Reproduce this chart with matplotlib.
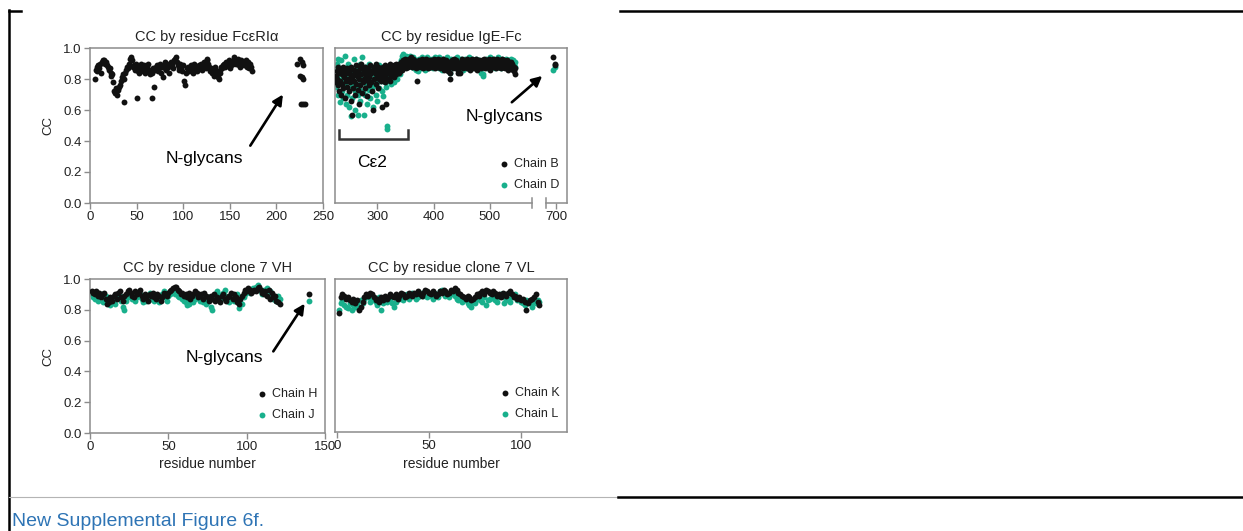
import numpy as np
import matplotlib
matplotlib.use("Agg")
import matplotlib.pyplot as plt
from matplotlib.lines import Line2D

plt.rcParams['font.family'] = ['Liberation Sans', 'DejaVu Sans']

# ---- data (CC x 100, one value per residue) ----
fcer_start = 5
fcer_cc = """80 86 88 85 89 87 90 84 91 92 92 90 91 89 88 86 87 84 82 83
78 72 71 74 70 73 75 76 79 81 83 65 80 84 86 88 87 90 93 94
92 88 89 86 90 68 85 87 84 88 90 86 85 89 84 87 88 90 85 83
86 84 68 87 75 86 88 89 85 87 90 84 88 81 89 91 87 86 90 88
84 89 91 90 87 92 93 94 91 89 88 86 90 87 85 89 79 76 84 87
88 85 86 89 87 84 88 90 86 87 85 88 89 87 90 86 88 91 89 87
92 93 90 88 85 87 84 86 82 88 85 83 81 80 86 84 88 87 89 90
88 91 89 90 92 87 89 91 90 93 94 92 90 91 93 89 88 92 90 91
89 90 92 88 91 89 87 90 88 85"""
fcer_gly_res = [222, 225, 228, 229, 225, 227, 229, 226, 229, 231]
fcer_gly_cc = [0.90, 0.93, 0.91, 0.89, 0.82, 0.81, 0.80, 0.64, 0.64, 0.64]

ige_start = 226
ige_b_cc = """82 78 85 80 76 88 72 84 79 86 70 83 77 88 74 81 86 68 79 84
75 87 80 72 85 78 83 66 88 57 81 74 86 79 70 84 77 89 82 73
85 64 80 87 76 83 90 71 84 78 86 80 74 88 82 69 85 79 87 81
76 89 83 78 85 72 60 86 80 88 84 77 90 82 86 74 88 80 85 83
87 79 84 62 88 81 85 78 89 64 83 86 80 88 84 87 79 90 85 82
88 84 86 81 89 85 87 90 83 88 86 89 84 90 87 85 91 88 86 92
90 88 91 89 93 87 90 92 88 91 93 90 89 92 94 91 88 90 93 89
92 90 87 89 91 79 88 90 92 89 91 88 90 93 89 87 91 90 88 92
90 93 89 91 87 90 92 88 91 89 92 90 88 91 93 89 87 90 92 88
91 89 93 90 88 92 87 91 89 90 93 88 90 86 91 89 92 88 90 87
85 88 91 80 84 90 92 89 87 91 93 88 90 92 87 89 91 86 84 90
88 84 91 89 93 90 87 92 88 91 89 92 90 87 93 91 88 90 86 92
90 88 91 93 89 87 90 92 88 91 93 89 86 90 92 88 91 89 87 90
92 88 90 93 89 91 87 90 92 88 91 89 93 90 86 92 88 91 89 90
93 88 91 89 92 87 90 93 89 91 88 92 90 87 91 89 93 90 88 92
90 87 91 89 92 88 90 86 91 89 88 91 87 90 89 86 88 85 87 83"""
ige_d_cc = """88 75 90 82 70 93 78 86 65 84 92 72 80 68 87 76 95 82 64 78
85 70 90 62 80 88 74 56 83 77 68 86 79 93 72 60 84 76 88 70
57 82 74 90 66 85 78 94 72 80 57 84 70 88 76 82 64 86 78 73
90 68 80 85 74 88 79 62 84 76 82 70 87 78 66 84 80 89 74 85
79 88 72 84 81 69 86 78 82 75 87 50 48 83 79 86 81 88 77 84
80 87 83 78 88 84 82 89 86 80 88 84 90 86 89 83 92 87 95 91
96 94 90 93 89 95 91 88 92 94 90 93 95 89 91 92 88 94 90 87
93 89 91 86 90 88 92 85 90 93 89 91 87 94 90 88 92 89 91 86
92 89 94 90 87 91 93 88 90 92 89 93 90 87 92 88 94 91 89 90
92 88 90 94 87 91 89 93 90 86 90 93 88 91 89 92 87 90 94 88
91 87 89 84 90 93 88 91 89 92 88 90 93 87 91 89 94 88 90 92
87 91 89 93 88 90 92 86 91 89 93 88 90 92 87 91 89 94 90 88
91 89 93 87 90 92 88 91 89 93 90 87 91 89 92 88 90 86 84 91
89 83 82 90 92 88 91 89 93 87 90 92 88 91 89 94 87 90 92 88
91 89 93 90 87 92 88 91 89 94 88 90 92 87 91 89 93 90 88 91
92 88 90 93 87 91 89 92 88 90 91 89 93 88 90 92 87 89 91 88"""
ige_b_gly_res = [695, 697, 698]
ige_b_gly_cc = [0.94, 0.90, 0.89]
ige_d_gly_res = [695, 697]
ige_d_gly_cc = [0.86, 0.88]

vh_start = 1
vh_h_cc = """92 91 90 92 89 91 88 90 91 87 84 85 88 86 89 90 87 91 92 88
86 89 90 92 93 91 89 88 92 90 91 93 89 87 90 88 86 90 89 91
88 87 90 89 86 88 91 90 89 91 92 93 94 95 95 93 92 90 91 89
90 88 91 87 89 90 92 91 88 89 90 87 91 89 88 86 89 87 90 86
88 87 85 89 90 87 86 88 89 91 87 90 88 85 84 87 89 91 93 92
94 93 91 92 93 92 94 95 93 91 90 92 89 93 87 91 88 89 86 85 84"""
vh_j_cc = """90 88 87 89 86 88 90 85 88 89 87 86 83 85 87 84 88 90 89 86
82 80 86 88 91 90 87 89 86 88 89 90 87 85 88 86 89 91 87 88
86 89 88 85 87 90 92 88 86 89 90 91 92 90 93 89 88 90 87 86
85 83 84 86 88 85 87 89 90 86 88 85 87 84 86 88 82 80 87 89
92 90 86 88 91 93 89 87 85 88 89 86 88 90 81 85 84 88 90 92
93 91 92 94 93 95 96 94 92 90 93 91 94 89 92 90 87 88 86 89 87"""
vh_gly_res = [140]
vh_h_gly_cc = [0.90]
vh_j_gly_cc = [0.86]

vl_start = 1
vl_k_cc = """78 88 90 89 87 88 86 85 87 84 86 80 82 85 88 90 89 91 90 88
86 87 85 88 86 89 87 88 90 89 88 90 87 89 91 90 88 89 91 90
89 91 90 92 90 89 91 93 92 91 90 92 91 89 90 92 91 93 92 90
91 93 92 94 93 91 90 89 88 87 89 88 86 87 88 90 89 91 92 90
93 92 91 90 92 91 89 90 88 91 90 89 91 92 90 88 89 87 88 86
87 85 80 84 86 87 88 90 85 83"""
vl_l_cc = """80 84 86 83 82 81 84 80 83 82 84 81 86 84 87 89 88 85 87 86
85 83 88 80 84 86 85 87 86 84 82 85 88 87 89 86 88 90 87 89
91 89 87 88 90 91 89 92 88 90 89 87 91 90 88 92 93 91 89 90
88 91 90 89 87 86 88 85 87 86 84 83 82 85 84 87 88 86 85 88
83 86 87 89 88 86 85 88 90 89 84 86 87 85 88 89 90 86 87 85
84 83 86 85 84 82 85 84 86 85"""

BLACK = '#111111'
TEAL = '#19b08c'
SPINE = '#8c8c8c'
TXT = '#222222'
MS = 18


def cc(s):
    return np.array(s.split(), float) / 100


def res(start, vals):
    return start + np.arange(len(vals))


fig = plt.figure(figsize=(12.43, 5.31), dpi=100)
W, H = 1243, 531


def px_axes(l, t, r, b):
    return fig.add_axes([l / W, 1 - b / H, (r - l) / W, (b - t) / H])


def style(ax, title, left=True, xlabel=False):
    for s in ax.spines.values():
        s.set_color(SPINE)
        s.set_linewidth(1.1)
    ax.set_ylim(0, 1.0)
    ax.tick_params(direction='out', length=4, width=1, color=SPINE,
                   labelsize=9.5, labelcolor=TXT, pad=2)
    ax.set_yticks([0, 0.2, 0.4, 0.6, 0.8, 1.0])
    if left:
        ax.set_yticklabels(['0.0', '0.2', '0.4', '0.6', '0.8', '1.0'])
        ax.set_ylabel('CC', fontsize=9.5, color=TXT, labelpad=6)
    else:
        ax.tick_params(axis='y', left=False, labelleft=False)
    ax.set_title(title, fontsize=10.5, color=TXT, pad=5)
    if xlabel:
        ax.set_xlabel('residue number', fontsize=10, color=TXT, labelpad=3)


def legend(ax, handles, labels):
    ax.legend(handles, labels, loc='lower right', bbox_to_anchor=(1.0, 0.03),
              frameon=False, fontsize=9, handletextpad=0.3, labelspacing=0.7,
              borderaxespad=0.2, handlelength=1.0, scatterpoints=1,
              labelcolor=TXT)


def arrow(ax, head, tail):
    ax.annotate('', xy=head, xytext=tail,
                arrowprops=dict(arrowstyle='-|>', color='k', lw=1.9,
                                mutation_scale=15, shrinkA=0, shrinkB=0))


# ---- panel 1: FceRIa ----
ax1 = px_axes(90, 48, 323, 203)
v = cc(fcer_cc)
ax1.scatter(res(fcer_start, v), v, s=MS, color=BLACK, lw=0, zorder=3)
ax1.scatter(fcer_gly_res, fcer_gly_cc, s=MS, color=BLACK, lw=0, zorder=3)
ax1.set_xlim(0, 250)
ax1.set_xticks([0, 50, 100, 150, 200, 250])
style(ax1, 'CC by residue FcεRIα')
ax1.text(123, 0.29, 'N-glycans', fontsize=12.5, ha='center', va='center')
arrow(ax1, (207, 0.70), (172, 0.37))

# ---- panel 2: IgE-Fc with broken x axis ----
def fwd(x):
    x = np.asarray(x, float)
    return np.where(x <= 600, x, np.where(x < 682, 600, x - 82))


def inv(y):
    y = np.asarray(y, float)
    return np.where(y <= 600, y, y + 82)


ax2 = px_axes(335, 48, 567, 203)
ax2.set_xscale('function', functions=(fwd, inv))
vb = cc(ige_b_cc)
vd = cc(ige_d_cc)
ax2.scatter(res(ige_start, vd), vd, s=MS, color=TEAL, lw=0, zorder=2)
ax2.scatter(ige_d_gly_res, ige_d_gly_cc, s=MS, color=TEAL, lw=0, zorder=2)
hb = ax2.scatter(res(ige_start, vb), vb, s=MS, color=BLACK, lw=0, zorder=3)
ax2.scatter(ige_b_gly_res, ige_b_gly_cc, s=MS, color=BLACK, lw=0, zorder=3)
hd = ax2.scatter([], [], s=MS, color=TEAL, lw=0)
ax2.set_xlim(225, 719)
ax2.set_xticks([300, 400, 500, 700])
ax2.set_xticklabels(['300', '400', '500', '700'])
ax2.xaxis.set_minor_locator(matplotlib.ticker.NullLocator())
style(ax2, 'CC by residue IgE-Fc', left=False)
ax2.spines['bottom'].set_bounds(225, 575)
xt = ax2.get_xaxis_transform()
ax2.plot([682, 719], [0, 0], transform=xt, color=SPINE, lw=1.1, clip_on=False)
for bx in (575, 682):
    ax2.plot([bx, bx], [-0.03, 0.03], transform=xt, color=SPINE, lw=1.1,
             clip_on=False)
legend(ax2, [hb, hd], ['Chain B', 'Chain D'])
ax2.text(525, 0.56, 'N-glycans', fontsize=12.5, ha='center', va='center')
arrow(ax2, (593, 0.82), (539, 0.65))
# C-epsilon-2 bracket
ax2.plot([232, 232, 355, 355], [0.47, 0.41, 0.41, 0.47], color='#333333',
         lw=1.8, solid_joinstyle='miter')
ax2.text(291, 0.26, 'Cε2', fontsize=12.5, ha='center', va='center')

# ---- panel 3: clone 7 VH ----
ax3 = px_axes(90, 279, 325, 433)
vh = cc(vh_h_cc)
vj = cc(vh_j_cc)
ax3.scatter(res(vh_start, vj), vj, s=MS, color=TEAL, lw=0, zorder=2)
ax3.scatter(vh_gly_res, vh_j_gly_cc, s=MS, color=TEAL, lw=0, zorder=2)
hh = ax3.scatter(res(vh_start, vh), vh, s=MS, color=BLACK, lw=0, zorder=3)
ax3.scatter(vh_gly_res, vh_h_gly_cc, s=MS, color=BLACK, lw=0, zorder=3)
hj = ax3.scatter([], [], s=MS, color=TEAL, lw=0)
ax3.set_xlim(0, 150)
ax3.set_xticks([0, 50, 100, 150])
style(ax3, 'CC by residue clone 7 VH', xlabel=True)
legend(ax3, [hh, hj], ['Chain H', 'Chain J'])
ax3.text(86, 0.49, 'N-glycans', fontsize=12.5, ha='center', va='center')
arrow(ax3, (137, 0.84), (117, 0.53))

# ---- panel 4: clone 7 VL ----
ax4 = px_axes(335, 279, 567, 432)
vk = cc(vl_k_cc)
vl = cc(vl_l_cc)
ax4.scatter(res(vl_start, vl), vl, s=MS, color=TEAL, lw=0, zorder=2)
hk = ax4.scatter(res(vl_start, vk), vk, s=MS, color=BLACK, lw=0, zorder=3)
hl = ax4.scatter([], [], s=MS, color=TEAL, lw=0)
ax4.set_xlim(-1, 125)
ax4.set_xticks([0, 50, 100])
style(ax4, 'CC by residue clone 7 VL', left=False, xlabel=True)
legend(ax4, [hk, hl], ['Chain K', 'Chain L'])

# ---- document table borders and caption ----
def fig_line(x0, y0, x1, y1, **kw):
    fig.add_artist(Line2D([x0 / W, x1 / W], [1 - y0 / H, 1 - y1 / H], **kw))


fig_line(9, 10, 9, 531, color='k', lw=1.8)
fig_line(9, 11, 21, 11, color='k', lw=1.8)
fig_line(620, 11, 1243, 11, color='k', lw=1.8)
fig_line(9, 497, 618, 497, color='#b4b4b4', lw=0.8)
fig_line(618, 497, 1243, 497, color='k', lw=1.8)
fig.text(12 / W, 1 - 526 / H, 'New Supplemental Figure 6f.', color='#2e74b5',
         fontsize=14, va='baseline', ha='left')

fig.savefig('out.png', dpi=100)
